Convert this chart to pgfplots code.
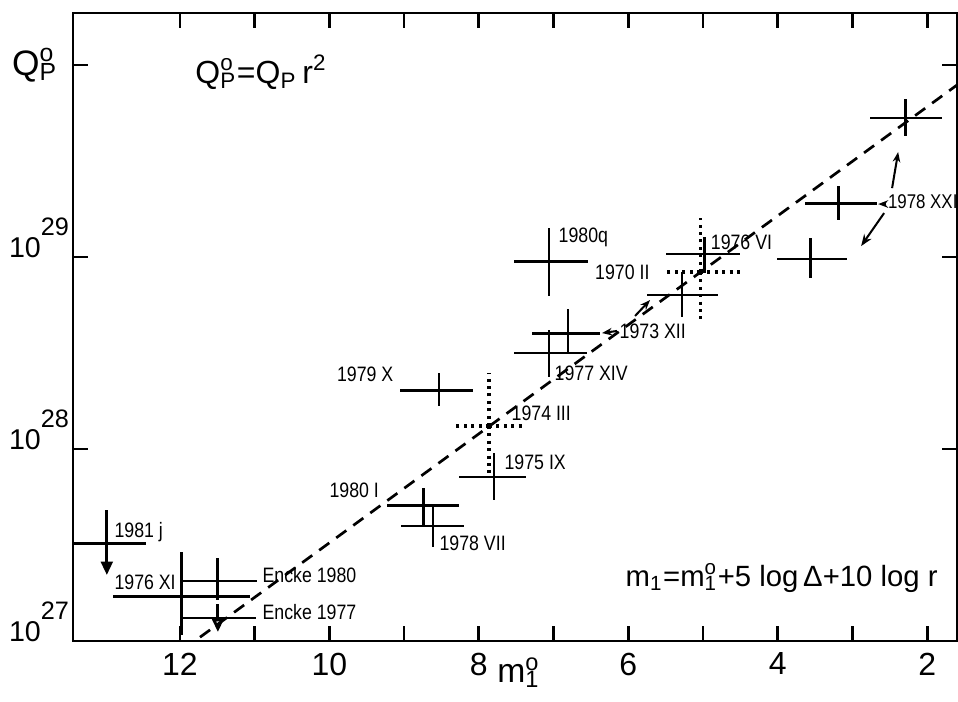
\documentclass[border=0pt]{standalone}
\usepackage{fontspec}
\setmainfont{Liberation Sans}
\newfontfamily\lblfont[FakeStretch=0.85]{Liberation Sans}
\usepackage{pgfplots}
\usepackage{pgfplotstable}
\pgfplotsset{compat=1.18}
\usetikzlibrary{arrows.meta}

\newcommand{\lbl}{\lblfont\fontsize{6.2}{7}\selectfont}
\newcommand{\supsub}[2]{\rlap{\textsuperscript{#1}}\textsubscript{#2}}

% m  log10(Q)  x+ x-  y+ y-
\pgfplotstableread{
m     q      xp    xm    yp    ym
12.977 27.510 0.455 0.522 0.172 0.000
11.973 27.234 0.924 0.910 0.230 0.203
11.491 27.313 0.482 0.522 0.120 0.098
11.491 27.120 0.469 0.508 0.073 0.000
8.734  27.708 0.495 0.469 0.089 0.114
8.613  27.599 0.429 0.415 0.104 0.109
8.533  28.307 0.522 0.455 0.089 0.083
7.797  27.854 0.468 0.429 0.125 0.120
7.060  28.979 0.469 0.522 0.172 0.182
6.806  28.604 0.482 0.428 0.125 0.104
7.060  28.500 0.469 0.508 0.120 0.125
5.280  28.802 0.468 0.482 0.120 0.115
4.985  29.016 0.509 0.482 0.088 0.099
2.295  29.724 0.468 0.496 0.099 0.094
3.191  29.281 0.442 0.522 0.089 0.088
3.566  28.990 0.442 0.495 0.109 0.099
}\solidcrosses

\pgfplotstableread{
m     q      xp    xm    yp    ym
7.863  28.120 0.482 0.468 0.276 0.245
5.039  28.922 0.495 0.536 0.281 0.266
}\dottedcrosses

\begin{document}
\begin{tikzpicture}
\begin{axis}[
    scale only axis,
    width=9.229cm, height=6.556cm,
    x dir=reverse,
    xmin=1.60, xmax=13.43,
    ymin=27, ymax=30.271,
    xtick={2,4,...,12},
    minor xtick={3,5,...,11},
    ytick={27,28,29,30},
    yticklabels={10\raisebox{0.75em}{\fontsize{7.5}{8}\selectfont 27},
                 10\raisebox{0.75em}{\fontsize{7.5}{8}\selectfont 28},
                 10\raisebox{0.75em}{\fontsize{7.5}{8}\selectfont 29},{}},
    tick align=inside,
    major tick length=0.16cm, minor tick length=0.16cm,
    every tick/.style={black, line width=0.8pt},
    axis line style={line width=0.8pt},
    ticklabel style={font=\fontsize{9.5}{11}\selectfont},
    yticklabel style={anchor=base east, inner sep=1pt, font=\fontsize{8.5}{10}\selectfont},
    /pgf/number format/assume math mode=true,
    clip=false,
]
\coordinate (bl) at (rel axis cs:0,0);
\coordinate (tr) at (rel axis cs:1,1);

% error crosses
\addplot[only marks, mark=*, mark size=0pt, mark options={draw opacity=0, fill opacity=0},
    error bars/.cd, x dir=both, y dir=both, x explicit, y explicit,
    error mark=none, error bar style={black, line width=0.85pt}]
    table[x=m, y=q, x error plus=xp, x error minus=xm,
          y error plus=yp, y error minus=ym] {\solidcrosses};
\addplot[only marks, mark=*, mark size=0pt, mark options={draw opacity=0, fill opacity=0},
    error bars/.cd, x dir=both, y dir=both, x explicit, y explicit,
    error mark=none, error bar style={black, line width=0.9pt, dash pattern=on 0.9pt off 1.3pt}]
    table[x=m, y=q, x error plus=xp, x error minus=xm,
          y error plus=yp, y error minus=ym] {\dottedcrosses};

% upper limits
\addplot[black, line width=0.85pt, -{Triangle[length=4pt,width=3.5pt]}]
    coordinates {(12.977,27.510) (12.977,27.344)};
\addplot[black, line width=0.85pt, -{Triangle[length=4pt,width=3.5pt, open]}]
    coordinates {(11.491,27.120) (11.491,27.047)};

% fitted relation
\addplot[black, line width=0.8pt, dash pattern=on 0.13cm off 0.09cm]
    coordinates {(11.73,27.02) (1.60,29.896)};

% annotations
\begin{scope}[every node/.style={font=\lbl, inner sep=0.6pt}]
\node[anchor=west] at (axis cs:12.91,27.568) {1981 j};
\node[anchor=west] at (axis cs:12.91,27.307) {1976 XI};
\node[anchor=west] at (axis cs:10.929,27.344) {Encke 1980};
\node[anchor=west] at (axis cs:10.929,27.151) {Encke 1977};
\node[anchor=east] at (axis cs:9.30,27.786) {1980 I};
\node[anchor=west] at (axis cs:8.56,27.510) {1978 VII};
\node[anchor=east] at (axis cs:9.108,28.391) {1979 X};
\node[anchor=west] at (axis cs:7.596,28.1875) {1974 III};
\node[anchor=west] at (axis cs:7.69,27.932) {1975 IX};
\node[anchor=west] at (axis cs:6.967,29.104) {1980q};
\node[anchor=west] at (axis cs:7.02,28.396) {1977 XIV};
\node[anchor=west] at (axis cs:6.15,28.615) {1973 XII};
\node[anchor=east] at (axis cs:5.68,28.922) {1970 II};
\node[anchor=west] at (axis cs:4.93,29.078) {1976 VI};
\node[anchor=west, font=\lblfont\fontsize{5.9}{7}\selectfont] at (axis cs:2.56,29.286) {1978 XXI};
\end{scope}

\draw[line width=0.6pt, -{Stealth[length=3pt]}] (axis cs:6.150,28.615) -- (axis cs:6.351,28.604);
\draw[line width=0.6pt, -{Stealth[length=3pt]}] (axis cs:5.909,28.693) -- (axis cs:5.708,28.776);
\draw[line width=0.6pt, -{Stealth[length=3pt]}] (axis cs:2.545,29.276) -- (axis cs:2.656,29.276);
\draw[line width=0.6pt, -{Stealth[length=3pt, open]}] (axis cs:2.469,29.359) -- (axis cs:2.388,29.547);
\draw[line width=0.6pt, -{Stealth[length=3.5pt]}] (axis cs:2.576,29.229) -- (axis cs:2.884,29.057);

\node[anchor=west, inner sep=0pt, font=\fontsize{9.5}{11}\selectfont] at (axis cs:11.80,29.964)
    {Q\supsub{o}{P}=Q\textsubscript{P}\,r\textsuperscript{2}};
\node[anchor=west, inner sep=0pt, font=\fontsize{8.7}{10}\selectfont] at (axis cs:6.043,27.328)
    {m\textsubscript{1}=m\supsub{o}{1}+5 log\,Δ+10 log r};

% axis labels
\node[anchor=center, font=\fontsize{10.5}{12}\selectfont] at (axis cs:13.94,30.0)
    {Q\supsub{o}{P}};
\node[anchor=base west, inner sep=0pt, font=\fontsize{10}{12}\selectfont] at ([yshift=-0.43cm]axis cs:7.76,27)
    {m\supsub{o}{1}};
\end{axis}
\pgfresetboundingbox
\path ([xshift=-0.762cm,yshift=-0.626cm]bl) rectangle ([xshift=0.01cm,yshift=0.136cm]tr);
\end{tikzpicture}
\end{document}
